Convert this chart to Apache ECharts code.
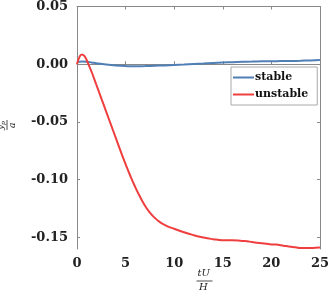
<!DOCTYPE html>
<html>
<head>
<meta charset="utf-8">
<script src="https://cdn.jsdelivr.net/npm/echarts@6/dist/echarts.min.js"></script>
<style>html,body{margin:0;padding:0;background:#fff}#c{width:332px;height:294px}</style>
</head>
<body>
<div id="c"></div>
<script>
var stableT = [0, 0.5, 1, 1.5, 2, 3, 4, 5, 6, 7, 8, 9, 10, 11, 12, 13, 14, 15, 16, 17, 18, 19, 20, 21, 22, 23, 24, 25];
var stableY = [0.0018, 0.0024, 0.0022, 0.0015, 0.0008, -0.0003, -0.0011, -0.0016, -0.0018, -0.0016, -0.0013, -0.0010, -0.0006, -0.0002, 0.0003, 0.0007, 0.0011, 0.0015, 0.0018, 0.0021, 0.0023, 0.0025, 0.0026, 0.0027, 0.0028, 0.0030, 0.0033, 0.0036];
var unstableT = [0, 0.25, 0.5, 0.75, 1, 1.25, 1.5, 2, 2.5, 3, 3.5, 4, 4.5, 5, 5.5, 6, 6.5, 7, 7.5, 8, 8.5, 9, 9.5, 10, 11, 12, 13, 14, 14.5, 15, 16, 17, 17.5, 18, 18.5, 19, 19.5, 20, 20.5, 21, 21.5, 22, 22.5, 23, 23.5, 24, 24.5, 25];
var unstableY = [0, 0.0062, 0.0084, 0.0072, 0.0035, -0.0015, -0.0065, -0.018, -0.0295, -0.041, -0.0525, -0.064, -0.0755, -0.0865, -0.097, -0.1065, -0.115, -0.1225, -0.1285, -0.133, -0.1365, -0.139, -0.141, -0.1425, -0.1455, -0.148, -0.150, -0.1515, -0.152, -0.1525, -0.1525, -0.153, -0.1532, -0.154, -0.1545, -0.155, -0.1555, -0.156, -0.1562, -0.1568, -0.1575, -0.158, -0.1585, -0.1592, -0.1592, -0.1592, -0.1590, -0.1588];
var xTicks = [0, 5, 10, 15, 20, 25];
var yTicks = [-0.15, -0.10, -0.05, 0.00, 0.05];
var seriesNames = ['stable', 'unstable'];

function pairs(t, y) { return t.map(function (v, i) { return [v, y[i]]; }); }

var chart = echarts.init(document.getElementById('c'), null, {renderer: 'canvas'});
var axisCol = '#888888';
var tickFont = {fontFamily: 'DejaVu Serif', fontWeight: 'bold', fontSize: 13, color: '#222'};
chart.setOption({
  animation: false,
  backgroundColor: '#fff',
  grid: {left: 77, right: 6, top: 5, bottom: 45, containLabel: false},
  xAxis: [{
    type: 'value', min: 0, max: 25, interval: 5, position: 'bottom',
    axisLine: {show: true, lineStyle: {color: axisCol, width: 1}},
    axisTick: {show: true, inside: true, length: 3, lineStyle: {color: axisCol}},
    axisLabel: Object.assign({margin: 8, customValues: xTicks, formatter: function (v) { return String(v); }}, tickFont),
    splitLine: {show: false}
  }, {
    type: 'value', min: 0, max: 25, interval: 5, position: 'top',
    axisLine: {show: true, onZero: false, lineStyle: {color: axisCol, width: 1}},
    axisTick: {show: true, inside: true, length: 3, lineStyle: {color: axisCol}},
    axisLabel: {show: false}, splitLine: {show: false}
  }],
  yAxis: [{
    type: 'value', min: -0.16, max: 0.05, position: 'left',
    axisLine: {show: true, onZero: false, lineStyle: {color: axisCol, width: 1}},
    axisTick: {show: true, inside: true, length: 3, customValues: yTicks, lineStyle: {color: axisCol}},
    axisLabel: Object.assign({margin: 9, customValues: yTicks, formatter: function (v) { return v.toFixed(2); }}, tickFont),
    splitLine: {show: false}
  }, {
    type: 'value', min: -0.16, max: 0.05, position: 'right',
    axisLine: {show: true, onZero: false, lineStyle: {color: axisCol, width: 1}},
    axisTick: {show: true, inside: true, length: 3, customValues: yTicks, lineStyle: {color: axisCol}},
    axisLabel: {show: false}, splitLine: {show: false}
  }],
  legend: {
    data: seriesNames,
    left: 231, top: 67, orient: 'vertical',
    backgroundColor: '#fff', borderColor: '#aaaaaa', borderWidth: 1, borderRadius: 0,
    padding: [5, 9, 5, 2], itemGap: 6,
    icon: 'rect', itemWidth: 21, itemHeight: 2,
    textStyle: {fontFamily: 'DejaVu Serif', fontWeight: 'bold', fontSize: 11, color: '#111', padding: [0, 0, 0, -4]}
  },
  series: [{
    name: 'stable', type: 'line', showSymbol: false, smooth: true,
    data: pairs(stableT, stableY), lineStyle: {color: '#4f7fb4', width: 2}, itemStyle: {color: '#4f7fb4'}
  }, {
    name: 'unstable', type: 'line', showSymbol: false, smooth: true,
    data: pairs(unstableT, unstableY), lineStyle: {color: '#ef3e3e', width: 2}, itemStyle: {color: '#ef3e3e'}
  }],
  graphic: [{
    type: 'group', left: 194, top: 268,
    children: [
      {type: 'text', x: 0, y: 0, style: {text: 'tU', font: 'italic 10px "DejaVu Serif"', fill: '#222'}},
      {type: 'line', shape: {x1: -1, y1: 13, x2: 15, y2: 13}, style: {stroke: '#222', lineWidth: 0.8}},
      {type: 'text', x: 1.5, y: 14.5, style: {text: 'H', font: 'italic 10px "DejaVu Serif"', fill: '#222'}}
    ]
  }, {
    type: 'group', x: 4, y: 126, rotation: Math.PI / 2,
    children: [
      {type: 'text', x: -4, y: -8, style: {text: '{y|y}{p|p}', rich: {y: {font: 'italic 9px "DejaVu Serif"', fill: '#222'}, p: {font: 'italic 6px "DejaVu Serif"', fill: '#222', verticalAlign: 'bottom', padding: [4, 0, 0, 0]}}}},
      {type: 'line', shape: {x1: -4, y1: 3, x2: 6, y2: 3}, style: {stroke: '#222', lineWidth: 0.8}},
      {type: 'text', x: -2, y: 4, style: {text: 'a', font: 'italic 9px "DejaVu Serif"', fill: '#222'}}
    ]
  }]
});
</script>
</body>
</html>
